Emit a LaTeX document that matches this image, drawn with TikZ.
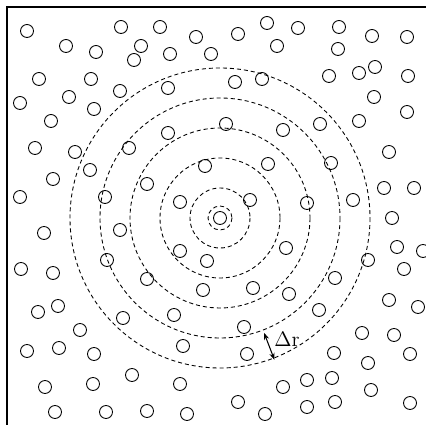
\documentclass[tikz,border=0pt]{standalone}
\usepackage{amsmath, amssymb}
\usepackage{tikz}
\usetikzlibrary{arrows.meta, calc}

\begin{document}
\begin{tikzpicture}[
    x=0.02cm, y=-0.02cm,
    particle/.style={line width=0.5pt},
    shell/.style={line width=0.5pt, dash pattern=on 2.3pt off 1.7pt},
    frame/.style={line width=0.8pt},
    gap/.style={line width=0.6pt, {Stealth[length=4pt,width=3pt]}-{Stealth[length=4pt,width=3pt]}}
]
\useasboundingbox (0,0) rectangle (426,425);
\clip (0,0) rectangle (426,425);

% box edges
\draw[frame] (426,7) -- (7,7) -- (7,425);

% particles
\foreach \x/\y in {27/31, 121/27, 160/27, 196/37, 66/46, 141/46, 96/52, 170/54, 134/60, 211/54,
    39/79, 91/79, 168/88, 120/91, 69/97, 20/103, 94/109, 51/121, 168/133, 35/148, 75/152,
    129/148, 205/166, 90/170, 53/179, 147/184, 20/197, 105/197, 180/202,
    267/23, 238/34, 298/28, 339/27, 372/36, 407/37, 277/46, 338/49, 235/82, 262/79, 329/76,
    359/73, 375/67, 408/76, 374/97, 407/112, 226/124, 283/130, 320/124, 359/121, 389/152,
    268/164, 331/163, 384/188, 414/188, 250/200, 307/203, 353/200,
    44/233, 120/230, 180/251, 207/261, 107/260, 21/269, 53/273, 147/279, 203/290, 58/306,
    38/312, 123/318, 174/315, 80/330, 27/351, 59/348, 94/354, 183/346, 132/375, 45/387,
    93/384, 180/384, 55/412, 106/412, 147/411, 187/414,
    220/218, 392/218, 286/248, 397/247, 423/251, 368/260, 404/269, 335/278, 253/288, 289/294,
    389/300, 418/307, 319/310, 244/327, 362/333, 394/335, 247/354, 334/353, 410/354, 368/363,
    307/380, 332/378, 283/387, 371/390, 238/402, 335/402, 307/407, 410/403, 265/414}
    \draw[particle] (\x,\y) circle[radius=6.5];

% shells around the reference particle
\coordinate (origin) at (220,218);
\foreach \r in {12, 30, 60, 90, 120, 150}
    \draw[shell] (origin) circle[radius=\r];

% shell width
\coordinate (inner) at ($(origin)+(69:123)$);
\coordinate (outer) at ($(origin)+(69:152)$);
\draw[gap] (inner) -- (outer);
\node[font=\fontsize{11.5}{14}\selectfont] (dr) at (287,339) {$\Delta\mathrm{r}$};
\end{tikzpicture}
\end{document}
